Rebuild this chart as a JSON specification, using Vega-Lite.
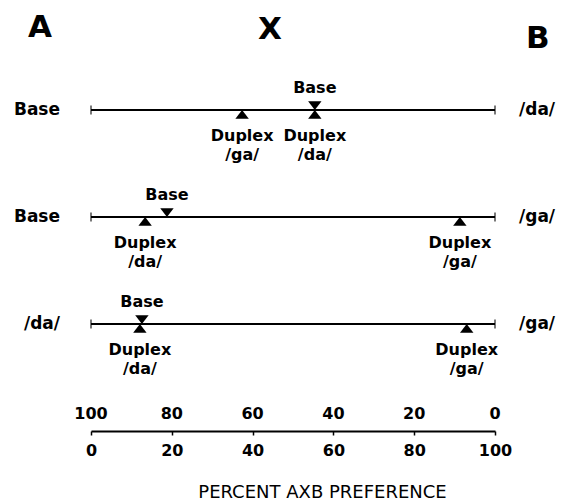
{
  "$schema": "https://vega.github.io/schema/vega-lite/v6.json",
  "width": 404,
  "height": 428,
  "autosize": "none",
  "padding": {"left": 91, "top": 3, "right": 78, "bottom": 73},
  "background": "white",
  "config": {"view": {"stroke": null}, "font": "DejaVu Sans", "text": {"font": "DejaVu Sans", "color": "black"}},
  "datasets": {
    "lines": [
      {"row": 1, "pos": 0, "pos_end": 100, "left": "Base", "right": "/da/"},
      {"row": 2, "pos": 0, "pos_end": 100, "left": "Base", "right": "/ga/"},
      {"row": 3, "pos": 0, "pos_end": 100, "left": "/da/", "right": "/ga/"}
    ],
    "ends": [
      {"row": 1, "pos": 0}, {"row": 1, "pos": 100},
      {"row": 2, "pos": 0}, {"row": 2, "pos": 100},
      {"row": 3, "pos": 0}, {"row": 3, "pos": 100}
    ],
    "marks": [
      {"row": 1, "pos": 55.4, "type": "Base", "label": "Base"},
      {"row": 1, "pos": 37.4, "type": "Duplex", "label": "Duplex\n/ga/"},
      {"row": 1, "pos": 55.4, "type": "Duplex", "label": "Duplex\n/da/"},
      {"row": 2, "pos": 18.8, "type": "Base", "label": "Base"},
      {"row": 2, "pos": 13.4, "type": "Duplex", "label": "Duplex\n/da/"},
      {"row": 2, "pos": 91.3, "type": "Duplex", "label": "Duplex\n/ga/"},
      {"row": 3, "pos": 12.6, "type": "Base", "label": "Base"},
      {"row": 3, "pos": 12.1, "type": "Duplex", "label": "Duplex\n/da/"},
      {"row": 3, "pos": 93.0, "type": "Duplex", "label": "Duplex\n/ga/"}
    ],
    "toplabels": [
      {"pos": 0, "row": 4, "label": "100"}, {"pos": 20, "row": 4, "label": "80"}, {"pos": 40, "row": 4, "label": "60"},
      {"pos": 60, "row": 4, "label": "40"}, {"pos": 80, "row": 4, "label": "20"}, {"pos": 100, "row": 4, "label": "0"}
    ],
    "header": [
      {"pos": -12.6, "row": 0.32, "label": "A"},
      {"pos": 44.3, "row": 0.34, "label": "X"},
      {"pos": 110.6, "row": 0.42, "label": "B"}
    ]
  },
  "encoding": {
    "x": {
      "field": "pos", "type": "quantitative",
      "scale": {"domain": [0, 100], "nice": false, "zero": false},
      "axis": {
        "orient": "bottom", "values": [0, 20, 40, 60, 80, 100], "grid": false,
        "domainColor": "black", "domainWidth": 2, "tickColor": "black", "tickWidth": 1.5, "tickSize": 4,
        "labelFont": "DejaVu Sans", "labelFontSize": 16, "labelFontWeight": "bold", "labelColor": "black", "labelPadding": 7,
        "labelFlush": false,
        "title": "PERCENT AXB PREFERENCE", "titleFont": "DejaVu Sans", "titleFontSize": 18, "titleFontWeight": "normal",
        "titleColor": "black", "titleX": 231, "titleY": 66, "titleBaseline": "alphabetic", "titleAlign": "center"
      }
    },
    "y": {"field": "row", "type": "quantitative", "scale": {"domain": [0, 4], "reverse": true, "zero": false, "nice": false}, "axis": null}
  },
  "layer": [
    {
      "data": {"name": "lines"},
      "mark": {"type": "rule", "color": "black", "strokeWidth": 2},
      "encoding": {"x2": {"field": "pos_end"}}
    },
    {
      "data": {"name": "ends"},
      "mark": {"type": "tick", "orient": "vertical", "color": "black", "size": 9, "thickness": 1.5},
      "encoding": {}
    },
    {
      "data": {"name": "marks"},
      "mark": {"type": "point", "filled": true, "color": "black", "opacity": 1, "size": 180},
      "encoding": {
        "shape": {"field": "type", "type": "nominal", "legend": null,
          "scale": {"domain": ["Base", "Duplex"], "range": ["M0,0L1,-1.3L-1,-1.3Z", "M0,0L1,1.3L-1,1.3Z"]}}
      }
    },
    {
      "data": {"name": "marks"},
      "transform": [{"filter": "datum.type === 'Base'"}],
      "mark": {"type": "text", "fontSize": 16, "fontWeight": "bold", "baseline": "alphabetic", "dy": -17, "align": "center"},
      "encoding": {"text": {"field": "label"}}
    },
    {
      "data": {"name": "marks"},
      "transform": [{"filter": "datum.type === 'Duplex'"}],
      "mark": {"type": "text", "fontSize": 16, "fontWeight": "bold", "baseline": "top", "dy": 18, "align": "center", "lineBreak": "\n", "lineHeight": 19},
      "encoding": {"text": {"field": "label"}}
    },
    {
      "data": {"name": "lines"},
      "mark": {"type": "text", "fontSize": 17, "fontWeight": "bold", "baseline": "middle", "align": "right", "dx": -31},
      "encoding": {"text": {"field": "left"}}
    },
    {
      "data": {"name": "lines"},
      "mark": {"type": "text", "fontSize": 17, "fontWeight": "bold", "baseline": "middle", "align": "left", "dx": 24},
      "encoding": {"x": {"field": "pos_end"}, "text": {"field": "right"}}
    },
    {
      "data": {"name": "toplabels"},
      "mark": {"type": "text", "fontSize": 16, "fontWeight": "bold", "baseline": "middle", "align": "center", "dy": -17},
      "encoding": {"text": {"field": "label"}}
    },
    {
      "data": {"name": "header"},
      "mark": {"type": "text", "fontSize": 31, "fontWeight": "bold", "baseline": "alphabetic", "align": "center"},
      "encoding": {"text": {"field": "label"}}
    }
  ]
}
